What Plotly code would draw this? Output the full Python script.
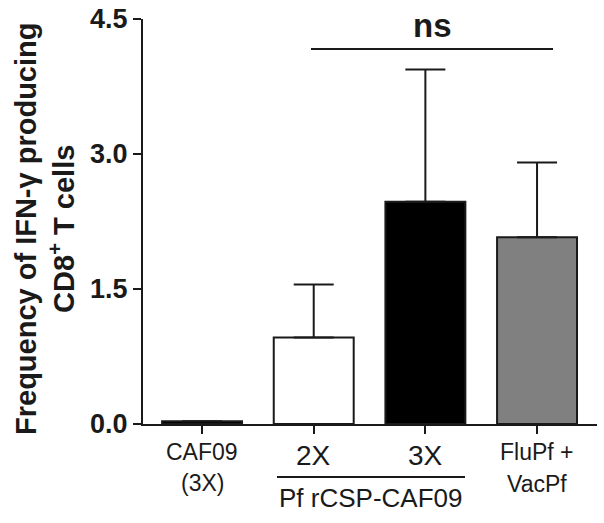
import plotly.graph_objects as go

# ---- data ----
categories = ["CAF09 (3X)", "2X", "3X", "FluPf + VacPf"]
means = [0.03, 0.96, 2.47, 2.075]
sem_up = [0.0, 0.59, 1.47, 0.83]
bar_colors = ["#000000", "#ffffff", "#000000", "#808080"]
y_ticks = [0.0, 1.5, 3.0, 4.5]
y_tick_labels = ["0.0", "1.5", "3.0", "4.5"]

# ---- layout geometry (pixels) ----
W, H = 604, 523
L, R, T, B = 143, 7, 19, 99
PW, PH = W - L - R, H - T - B
FONT = "Liberation Sans, Arial, sans-serif"
INK = "#1a1a1a"


def px(xp):
    return (xp - L) / PW


def py(yp):
    return (H - B - yp) / PH


fig = go.Figure()
fig.add_trace(go.Bar(
    x=categories, y=means, width=0.716,
    marker=dict(color=bar_colors, line=dict(color=INK, width=2)),
    error_y=dict(type="data", symmetric=False, array=sem_up,
                 arrayminus=[0] * len(means), color=INK, thickness=2, width=20),
    showlegend=False, hoverinfo="skip",
))

fig.update_layout(
    width=W, height=H,
    margin=dict(l=L, r=R, t=T, b=B, pad=0, autoexpand=False),
    plot_bgcolor="white", paper_bgcolor="white",
    font=dict(family=FONT, color=INK),
    bargap=0,
)
fig.update_xaxes(
    type="category", range=[-0.529, 3.537], automargin=False,
    showline=True, linecolor=INK, linewidth=2,
    ticks="outside", ticklen=8, tickwidth=2, tickcolor=INK,
    showticklabels=False, showgrid=False, zeroline=False,
)
fig.update_yaxes(
    range=[0, 4.5], tickvals=y_ticks, ticktext=y_tick_labels, automargin=False,
    showline=True, linecolor=INK, linewidth=2,
    ticks="outside", ticklen=8, tickwidth=2, tickcolor=INK,
    tickfont=dict(size=27, family=FONT, color=INK, weight="bold"),
    showgrid=False, zeroline=False,
)

ann = []
# y-axis title
ann.append(dict(
    text="<b>Frequency of IFN-γ producing<br>CD8<sup>+</sup> T cells</b>",
    xref="paper", yref="paper", x=px(45), y=py(229), textangle=-90,
    showarrow=False, font=dict(size=29, family=FONT, color=INK),
    xanchor="center", yanchor="middle",
))
# x labels
xl = [
    ("CAF09", 0, 452, 23), ("(3X)", 0, 483, 23),
    ("2X", 1, 455, 28), ("3X", 2, 455, 28),
    ("FluPf +", 3, 452, 23), ("VacPf", 3, 484, 23),
]
for t, xi, yp, fs in xl:
    ann.append(dict(text=t, xref="x", yref="paper", x=categories[xi], y=py(yp),
                    showarrow=False, xanchor="center", yanchor="middle",
                    font=dict(size=fs, family=FONT, color=INK)))
ann.append(dict(text="Pf rCSP-CAF09", xref="paper", yref="paper", x=px(371), y=py(498),
                showarrow=False, xanchor="center", yanchor="middle",
                font=dict(size=26, family=FONT, color=INK)))
ann.append(dict(text="<b>ns</b>", xref="paper", yref="paper", x=px(432), y=py(26),
                showarrow=False, xanchor="center", yanchor="middle",
                font=dict(size=33, family=FONT, color=INK)))
fig.update_layout(annotations=ann)

shapes = [
    dict(type="line", xref="paper", yref="paper", x0=px(311), x1=px(553),
         y0=py(49), y1=py(49), line=dict(color=INK, width=2)),
    dict(type="line", xref="paper", yref="paper", x0=px(277), x1=px(465),
         y0=py(477), y1=py(477), line=dict(color=INK, width=2)),
]
fig.update_layout(shapes=shapes)

fig.write_html(
    "out.html",
    config={"displayModeBar": False, "staticPlot": True},
    post_script="document.body.style.margin='0';document.body.style.padding='0';",
)
